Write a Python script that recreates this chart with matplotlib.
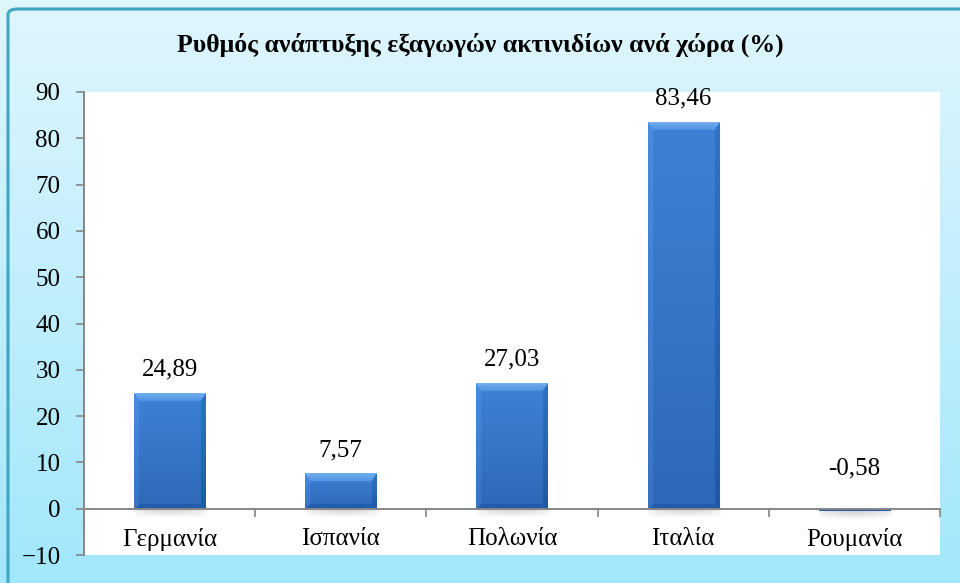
import numpy as np
import matplotlib
matplotlib.use("Agg")
import matplotlib.pyplot as plt
from matplotlib.patches import FancyBboxPatch

# data
xores = ["Γερμανία", "Ισπανία", "Πολωνία", "Ιταλία", "Ρουμανία"]
rythmos = [24.89, 7.57, 27.03, 83.46, -0.58]
yticks = list(range(-10, 100, 10))
titlos = "Ρυθμός ανάπτυξης εξαγωγών ακτινιδίων ανά χώρα (%)"

plt.rcParams["font.family"] = ["Liberation Serif", "DejaVu Serif"]

fig = plt.figure(figsize=(9.6, 5.83), dpi=100)

# light blue gradient background of the chart area
bg = fig.add_axes([0, 0, 1, 1], zorder=-10)
grad = np.linspace(0, 1, 256).reshape(-1, 1)
top = np.array([0.878, 0.965, 0.992])
bot = np.array([0.635, 0.906, 0.984])
img = top + (bot - top) * grad[:, :, None]
bg.imshow(img, aspect="auto", extent=[0, 1, 0, 1], origin="upper")
bg.add_patch(FancyBboxPatch((8 / 960, -0.05), 1.2, 1 - 9 / 583 + 0.05,
                            boxstyle="round,pad=0,rounding_size=0.01",
                            fc="none", ec="#3FA6C4", lw=2.2,
                            transform=bg.transAxes))
bg.set_xlim(0, 1)
bg.set_ylim(0, 1)
bg.axis("off")

fig.text(0.5, 1 - 45 / 583, titlos, ha="center", va="center",
         fontsize=18.5, fontweight="bold")

ax = fig.add_axes([84 / 960, 1 - 555 / 583, 856 / 960, 463 / 583])
ax.set_facecolor("white")
ax.set_xlim(-0.5, len(xores) - 0.5)
ax.set_ylim(-10, 90)

x = np.arange(len(xores))
bars = ax.bar(x, rythmos, width=0.415, color="#3A7BD0", linewidth=0, zorder=3)


def bevel_image(wpx, hpx):
    # bar body: vertical gradient plus bevelled edges
    r = np.arange(hpx)[:, None] * np.ones((1, wpx))
    c = np.ones((hpx, 1)) * np.arange(wpx)[None, :]
    t = r / max(hpx - 1, 1)
    body0 = np.array([0.24, 0.51, 0.84])
    body1 = np.array([0.18, 0.41, 0.72])
    out = body0 + (body1 - body0) * t[..., None]
    dt, dl = r / 8.0, c / 5.0
    dr, db = (wpx - 1 - c) / 5.0, (hpx - 1 - r) / 5.0
    d = np.stack([dt, dl, dr, db])
    k = d.argmin(axis=0)
    m = d.min(axis=0) < 1
    topc = np.array([0.45, 0.68, 0.93]) + (np.array([0.30, 0.57, 0.88]) -
                                           np.array([0.45, 0.68, 0.93])) * np.clip(dt, 0, 1)[..., None]
    out = np.where((m & (k == 0))[..., None], topc, out)
    out = np.where((m & (k == 1))[..., None], np.clip(out + 0.04, 0, 1), out)
    out = np.where((m & (k == 2))[..., None], np.clip(out - 0.06, 0, 1), out)
    out = np.where((m & (k == 3))[..., None], np.clip(out - 0.05, 0, 1), out)
    return out


fig.canvas.draw()
px_per_x = ax.transData.transform((1, 0))[0] - ax.transData.transform((0, 0))[0]
px_per_y = ax.transData.transform((0, 1))[1] - ax.transData.transform((0, 0))[1]
for b in bars:
    x0, y0 = b.get_x(), b.get_y()
    w, h = b.get_width(), b.get_height()
    wpx = max(int(round(w * px_per_x)), 2)
    hpx = max(int(round(abs(h) * px_per_y)), 2)
    ax.imshow(bevel_image(wpx, hpx), extent=[x0, x0 + w, min(y0, y0 + h), max(y0, y0 + h)],
              aspect="auto", zorder=3.5, interpolation="bilinear")
    # soft shadow under the bar base
    sh = 9 / px_per_y
    base = min(0, h)
    alpha = np.linspace(0.35, 0, 20)[:, None] * np.ones((1, 40))
    shimg = np.zeros((20, 40, 4))
    shimg[..., :3] = 0.45
    shimg[..., 3] = alpha * np.sin(np.linspace(0, np.pi, 40))[None, :] ** 0.5
    ax.imshow(shimg, extent=[x0 - 0.01, x0 + w + 0.02, base - sh, base],
              aspect="auto", zorder=2.5, interpolation="bilinear")

ax.set_xlim(-0.5, len(xores) - 0.5)
ax.set_ylim(-10, 90)
ax.set_yticks(yticks)
ax.tick_params(axis="y", length=6, width=1.2, color="#868686", pad=11,
               labelsize=18)

ax.spines["bottom"].set_position(("data", 0))
for s in ["top", "right"]:
    ax.spines[s].set_visible(False)
for s in ["left", "bottom"]:
    ax.spines[s].set_color("#868686")
    ax.spines[s].set_linewidth(1.4)
ax.spines["bottom"].set_zorder(4)

ax.set_xticks(x, labels=xores)
ax.set_xticks(np.arange(-0.5, len(xores), 1), minor=True)
ax.tick_params(axis="x", which="major", length=0, pad=14, labelsize=18)
ax.tick_params(axis="x", which="minor", length=6, width=1.2, color="#868686")

for xi, v in zip(x, rythmos):
    off = 17 if v >= 0 else 29
    ax.annotate(f"{v:.2f}".replace(".", ","), (xi, max(v, 0)),
                xytext=(0, off), textcoords="offset points",
                ha="center", va="center", fontsize=18)

fig.savefig("out.png", dpi=100)
